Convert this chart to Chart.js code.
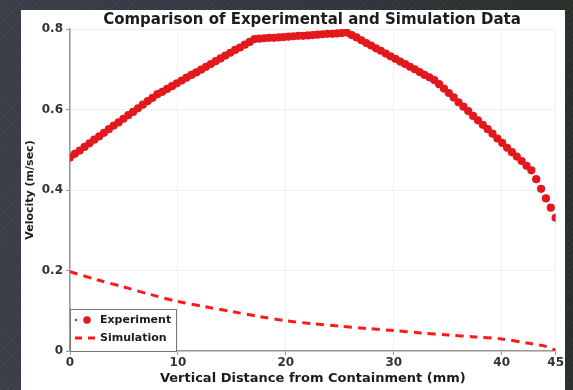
<!DOCTYPE html>
<html>
<head>
<meta charset="utf-8">
<script src="https://cdn.jsdelivr.net/npm/chart.js@4/dist/chart.umd.min.js"></script>
<style>
  html, body { margin: 0; padding: 0; }
  body {
    width: 573px; height: 390px; overflow: hidden; position: relative;
    background:
      repeating-linear-gradient(135deg, rgba(255,255,255,0.035) 0 1px, rgba(0,0,0,0) 1px 4px),
      linear-gradient(90deg, #3a3d48 0%, #33363f 55%, #283029 100%);
  }
  .panel {
    position: absolute; left: 21px; top: 10px; width: 544px; height: 380px;
    background: #fff;
  }
  canvas { display: block; }
</style>
</head>
<body>
<div class="panel"><canvas id="velChart" width="544" height="380"></canvas></div>
<script>
// measured points: distance (mm) and velocity (m/sec)
const expDistance = [
  0, 0.45, 0.9, 1.35, 1.8, 2.25, 2.7, 3.15, 3.6, 4.05,
  4.5, 4.95, 5.4, 5.85, 6.3, 6.75, 7.2, 7.65, 8.1, 8.55,
  9, 9.45, 9.9, 10.35, 10.8, 11.25, 11.7, 12.15, 12.6, 13.05,
  13.5, 13.95, 14.4, 14.85, 15.3, 15.75, 16.2, 16.65, 17.1, 17.55,
  18, 18.45, 18.9, 19.35, 19.8, 20.25, 20.7, 21.15, 21.6, 22.05,
  22.5, 22.95, 23.4, 23.85, 24.3, 24.75, 25.2, 25.65, 26.1, 26.55,
  27, 27.45, 27.9, 28.35, 28.8, 29.25, 29.7, 30.15, 30.6, 31.05,
  31.5, 31.95, 32.4, 32.85, 33.3, 33.75, 34.2, 34.65, 35.1, 35.55,
  36, 36.45, 36.9, 37.35, 37.8, 38.25, 38.7, 39.15, 39.6, 40.05,
  40.5, 40.95, 41.4, 41.85, 42.3, 42.75, 43.2, 43.65, 44.1, 44.55,
  45
];
const expVelocity = [
  0.481, 0.490, 0.498, 0.507, 0.516, 0.525, 0.533, 0.542, 0.551, 0.560,
  0.568, 0.577, 0.586, 0.594, 0.603, 0.612, 0.621, 0.629, 0.638, 0.644,
  0.651, 0.658, 0.665, 0.672, 0.679, 0.686, 0.692, 0.699, 0.706, 0.713,
  0.720, 0.727, 0.734, 0.741, 0.748, 0.754, 0.761, 0.768, 0.775, 0.776,
  0.777, 0.778, 0.778, 0.779, 0.780, 0.781, 0.782, 0.783, 0.783, 0.784,
  0.785, 0.786, 0.787, 0.788, 0.788, 0.789, 0.790, 0.791, 0.785, 0.779,
  0.772, 0.765, 0.759, 0.752, 0.746, 0.739, 0.732, 0.726, 0.719, 0.713,
  0.706, 0.700, 0.693, 0.686, 0.680, 0.673, 0.663, 0.652, 0.641, 0.630,
  0.618, 0.607, 0.596, 0.584, 0.573, 0.562, 0.551, 0.540, 0.528, 0.517,
  0.505, 0.494, 0.483, 0.472, 0.460, 0.449, 0.427, 0.403, 0.379, 0.356,
  0.331
];

// simulation profile
const simDistance = [0, 2.5, 5, 7.5, 10, 12.5, 15, 17.5, 20, 22.5, 25, 27.5, 30, 32.5, 35, 37.5, 40, 42.5, 44, 45];
const simVelocity = [0.197, 0.177, 0.159, 0.140, 0.123, 0.110, 0.098, 0.086, 0.075, 0.068, 0.062, 0.056, 0.051, 0.045, 0.040, 0.035, 0.030, 0.019, 0.012, 0.002];

const xTicks = [0, 10, 20, 30, 40, 45];
const yTicks = [0, 0.2, 0.4, 0.6, 0.8];

const FONT = 'DejaVu Sans';
const RED_DOT = '#e3181d';
const RED_DASH = '#ff1a1a';

const pts = (xs, ys) => xs.map((x, i) => ({ x, y: ys[i] }));

// title + in-plot legend box
const decorations = {
  id: 'decorations',
  afterDraw(chart) {
    const { ctx, chartArea: a } = chart;
    ctx.save();
    ctx.fillStyle = '#1c1c1c';
    ctx.font = 'bold 15px ' + FONT;
    ctx.textAlign = 'center';
    ctx.textBaseline = 'middle';
    ctx.fillText('Comparison of Experimental and Simulation Data', 291, 10);

    const bx = a.left, by = a.bottom - 42, bw = 106, bh = 42;
    ctx.fillStyle = '#fff';
    ctx.fillRect(bx, by, bw, bh);
    ctx.strokeStyle = '#777';
    ctx.lineWidth = 1;
    ctx.strokeRect(bx + 0.5, by + 0.5, bw, bh);

    ctx.fillStyle = RED_DOT;
    ctx.beginPath(); ctx.arc(bx + 6, by + 11, 1.2, 0, Math.PI * 2); ctx.fill();
    ctx.beginPath(); ctx.arc(bx + 17, by + 11, 3.8, 0, Math.PI * 2); ctx.fill();
    ctx.strokeStyle = RED_DASH;
    ctx.lineWidth = 3;
    ctx.setLineDash([7, 6]);
    ctx.beginPath(); ctx.moveTo(bx + 5, by + 29); ctx.lineTo(bx + 28, by + 29); ctx.stroke();
    ctx.setLineDash([]);

    ctx.fillStyle = '#1c1c1c';
    ctx.font = 'bold 11px ' + FONT;
    ctx.textAlign = 'left';
    ctx.fillText('Experiment', bx + 30, by + 11);
    ctx.fillText('Simulation', bx + 30, by + 29);
    ctx.restore();
  }
};

new Chart(document.getElementById('velChart'), {
  type: 'scatter',
  data: {
    datasets: [
      { label: 'Experiment', data: pts(expDistance, expVelocity), showLine: false,
        pointRadius: 4.1, pointBorderWidth: 0, backgroundColor: RED_DOT, order: 1 },
      { label: 'Simulation', data: pts(simDistance, simVelocity), showLine: true,
        borderColor: RED_DASH, borderWidth: 3, borderDash: [8, 6], tension: 0.3,
        pointRadius: 0, fill: false, order: 2 }
    ]
  },
  options: {
    responsive: false, animation: false,
    layout: { padding: { top: 19, right: 8, left: 0, bottom: 0 } },
    plugins: { legend: { display: false }, tooltip: { enabled: false } },
    scales: {
      x: {
        type: 'linear', min: 0, max: 45,
        afterBuildTicks: s => { s.ticks = xTicks.map(v => ({ value: v })); },
        afterFit: s => { s.height = 39; },
        grid: { color: '#f0f0f0', tickColor: '#999', tickLength: 4 },
        border: { color: '#999', width: 1.5 },
        ticks: { color: '#333', font: { family: FONT, size: 12, weight: 'bold' }, padding: 1, maxRotation: 0 },
        title: { display: true, text: 'Vertical Distance from Containment (mm)', color: '#1c1c1c',
          font: { family: FONT, size: 13, weight: 'bold' }, padding: { top: 0, bottom: 4 } }
      },
      y: {
        min: 0, max: 0.8,
        afterBuildTicks: s => { s.ticks = yTicks.map(v => ({ value: v })); },
        afterFit: s => { s.width = 49; },
        grid: { color: '#f0f0f0', tickColor: '#999', tickLength: 4 },
        border: { color: '#999', width: 1.5 },
        ticks: { color: '#333', font: { family: FONT, size: 12, weight: 'bold' }, padding: 3,
          callback: v => v === 0 ? '0' : v.toFixed(1) },
        title: { display: true, text: 'Velocity (m/sec)', color: '#1c1c1c',
          font: { family: FONT, size: 11, weight: 'bold' }, padding: { top: 3, bottom: 0 } }
      }
    }
  },
  plugins: [decorations]
});
</script>
</body>
</html>
